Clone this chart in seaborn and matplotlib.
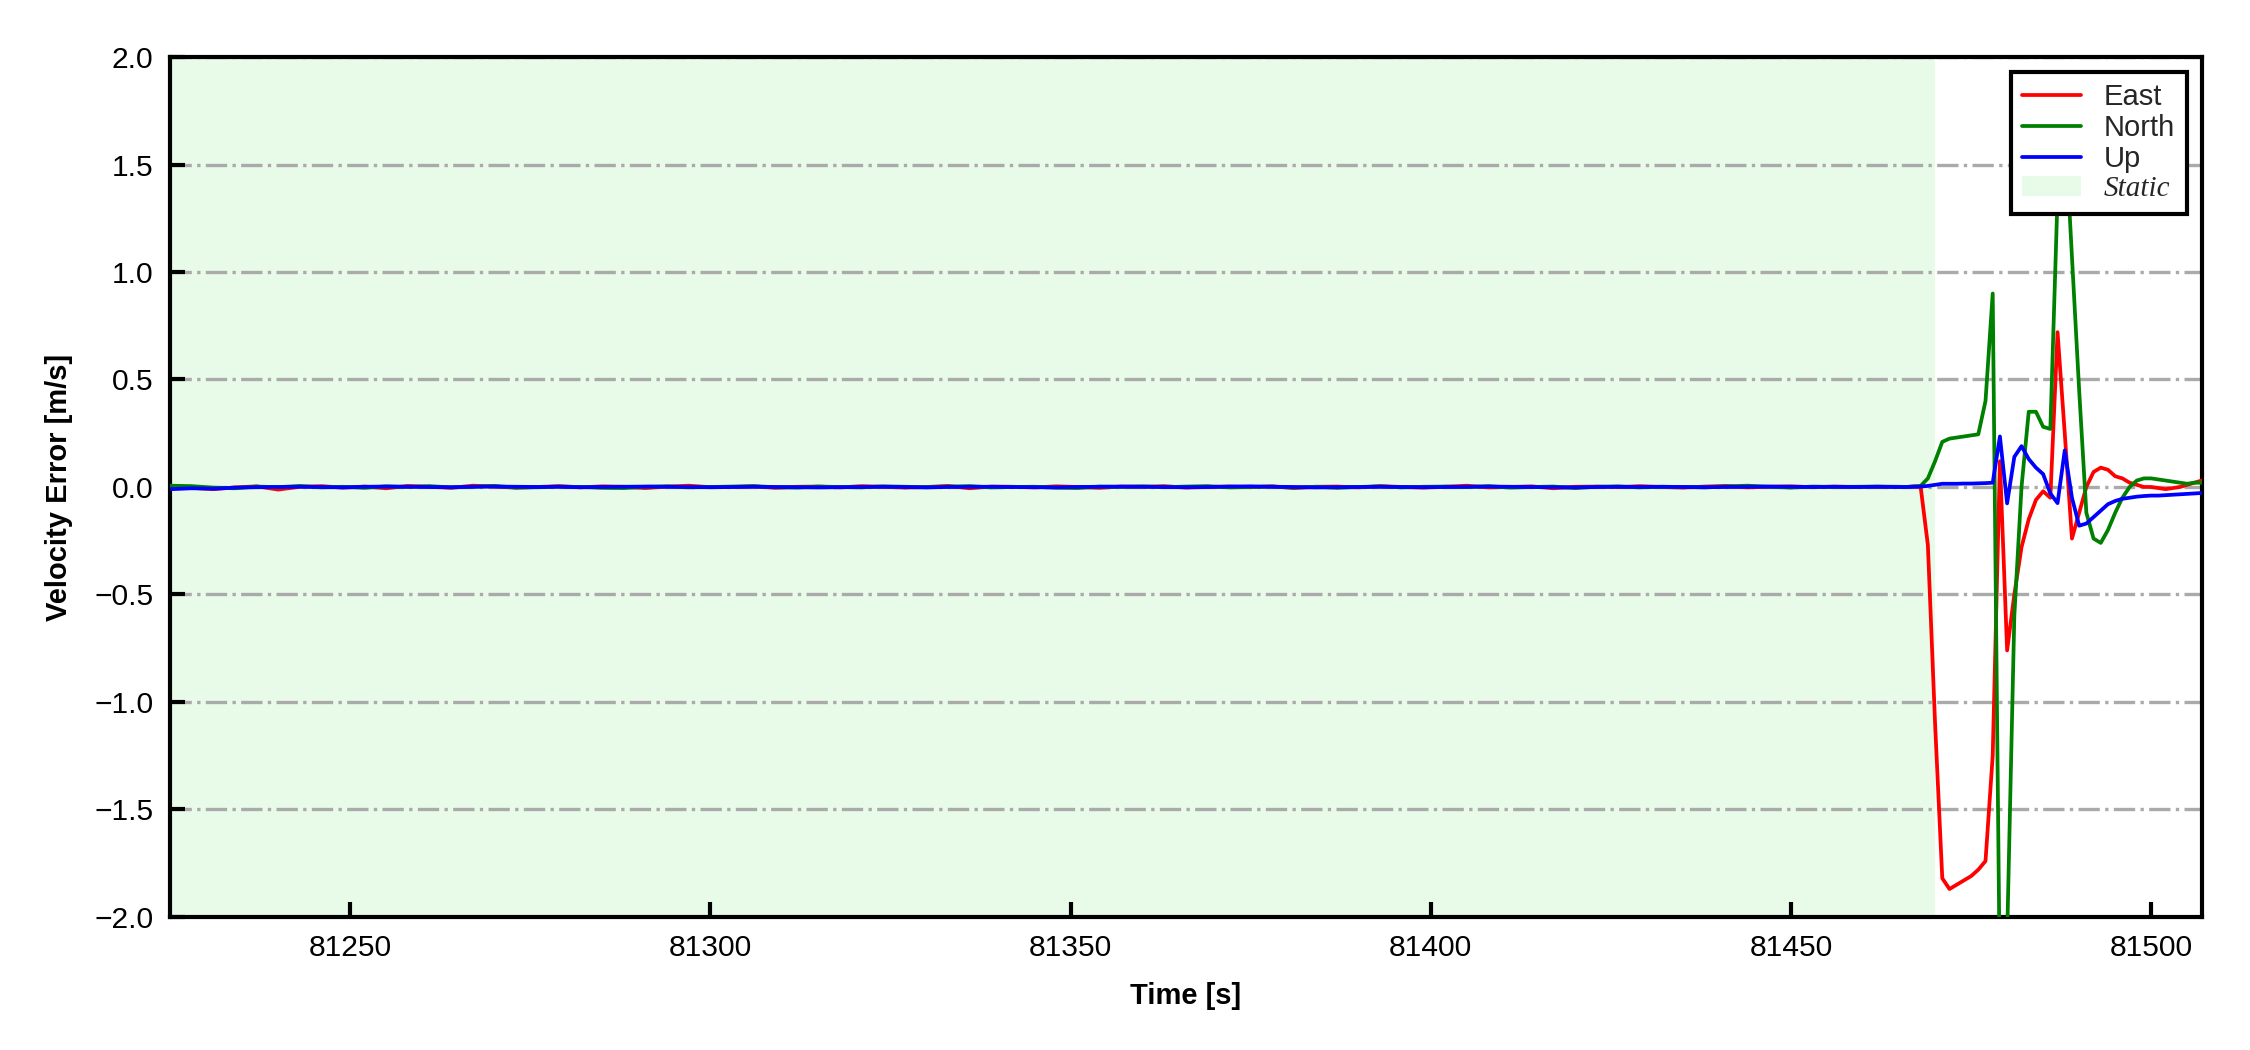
"""Velocity error (ENU) with static period shading"""
import seaborn as sns
import matplotlib.pyplot as plt
from matplotlib.patches import Patch
from matplotlib.lines import Line2D
from matplotlib.ticker import MultipleLocator
import pandas as pd
import numpy as np

STATIC_T = np.arange(81225, 81466, 3)
EAST_STATIC = [
    -0.008, -0.004, -0.010, -0.002, 0.003, -0.012, 0.001, 0.004, -0.003, 0.002,
    -0.006, 0.005, 0.001, -0.004, 0.006, 0.002, -0.003, 0.000, 0.004, -0.002,
    0.003, 0.001, -0.005, 0.002, 0.006, -0.001, 0.000, 0.003, -0.004, 0.001,
    0.002, -0.002, 0.004, 0.001, -0.003, 0.000, 0.005, -0.006, 0.002, 0.001,
    -0.002, 0.003, 0.000, -0.004, 0.002, 0.001, 0.004, -0.003, 0.000, 0.002,
    -0.001, 0.003, -0.005, 0.001, 0.002, -0.002, 0.004, 0.000, -0.003, 0.001,
    0.006, -0.002, 0.000, 0.003, -0.006, 0.001, 0.002, -0.001, 0.004, 0.000,
    -0.003, 0.002, 0.005, -0.002, 0.001, 0.003, -0.001, 0.002, 0.000, 0.001, 0.000]
NORTH_STATIC = [
    0.006, 0.004, -0.003, -0.006, 0.002, -0.001, 0.005, -0.002, 0.001, -0.004,
    0.003, 0.000, 0.004, -0.002, 0.001, 0.005, -0.003, -0.001, 0.002, 0.000,
    -0.004, -0.005, 0.001, 0.003, -0.002, 0.000, 0.002, 0.004, -0.001, -0.003,
    0.002, 0.000, -0.002, 0.003, 0.001, -0.001, 0.002, 0.004, -0.002, 0.000,
    0.001, -0.003, -0.005, 0.002, 0.000, 0.003, -0.001, 0.002, 0.004, -0.002,
    0.000, 0.002, -0.003, 0.001, -0.004, 0.000, 0.003, -0.002, 0.001, 0.002,
    -0.001, 0.004, -0.003, 0.000, 0.002, -0.005, 0.001, 0.003, -0.002, 0.001,
    0.000, -0.002, 0.003, 0.006, 0.001, -0.003, 0.002, 0.000, 0.001, 0.002, 0.001]
UP_STATIC = [
    -0.010, -0.006, -0.008, -0.003, -0.001, 0.000, 0.001, 0.000, -0.002, 0.001,
    0.002, 0.001, 0.000, -0.001, 0.001, 0.002, 0.001, 0.000, 0.001, -0.001,
    0.000, 0.001, 0.002, 0.001, 0.000, -0.001, 0.000, 0.001, 0.000, -0.001,
    -0.002, -0.001, 0.000, 0.001, 0.000, -0.002, 0.000, 0.001, 0.001, 0.000,
    -0.001, -0.002, 0.000, 0.001, 0.002, 0.001, 0.000, -0.001, 0.000, 0.002,
    0.003, 0.001, 0.000, -0.002, -0.001, 0.000, 0.001, 0.000, -0.001, 0.000,
    0.001, 0.002, 0.001, 0.000, -0.001, -0.002, 0.000, 0.001, 0.000, 0.001,
    0.000, -0.001, 0.000, 0.001, 0.002, 0.001, 0.000, 0.001, 0.000, 0.001, 0.000]

# dynamic part, 1 Hz
TRANS_T = np.arange(81466, 81508)
EAST_TRANS = [
    0.000, 0.002, 0.000, -0.27, -1.10, -1.82, -1.87, -1.85, -1.83, -1.81,
    -1.78, -1.74, -1.25, 0.12, -0.76, -0.50, -0.28, -0.15, -0.06, -0.02,
    -0.05, 0.72, 0.25, -0.24, -0.12, 0.00, 0.07, 0.09, 0.08, 0.05,
    0.04, 0.02, 0.01, 0.00, 0.00, -0.005, -0.01, -0.005, 0.00, 0.01,
    0.02, 0.03]
NORTH_TRANS = [
    0.000, 0.003, 0.005, 0.04, 0.12, 0.21, 0.225, 0.23, 0.235, 0.24,
    0.245, 0.40, 0.90, -2.35, -2.10, -0.60, 0.00, 0.35, 0.35, 0.28,
    0.27, 1.35, 1.70, 1.07, 0.45, -0.12, -0.24, -0.26, -0.20, -0.12,
    -0.05, 0.00, 0.03, 0.04, 0.04, 0.035, 0.03, 0.025, 0.02, 0.015,
    0.02, 0.02]
UP_TRANS = [
    0.000, 0.001, 0.002, 0.005, 0.010, 0.015, 0.015, 0.015, 0.016, 0.016,
    0.017, 0.018, 0.020, 0.235, -0.076, 0.14, 0.19, 0.13, 0.09, 0.06,
    -0.03, -0.075, 0.17, -0.05, -0.18, -0.17, -0.14, -0.11, -0.08, -0.065,
    -0.055, -0.05, -0.045, -0.042, -0.04, -0.04, -0.038, -0.036, -0.034, -0.032,
    -0.03, -0.028]

STATIC_END = 81470
COLORS = {'East': 'red', 'North': 'green', 'Up': 'blue'}

t = np.concatenate([STATIC_T, TRANS_T])
df = pd.concat([
    pd.DataFrame({'Time [s]': t, 'Error': EAST_STATIC + EAST_TRANS, 'Axis': 'East'}),
    pd.DataFrame({'Time [s]': t, 'Error': NORTH_STATIC + NORTH_TRANS, 'Axis': 'North'}),
    pd.DataFrame({'Time [s]': t, 'Error': UP_STATIC + UP_TRANS, 'Axis': 'Up'}),
])

sns.set_theme(style='white')
plt.rcParams['font.family'] = ['Liberation Sans', 'DejaVu Sans']
plt.rcParams['axes.unicode_minus'] = True

fig = plt.figure(figsize=(7.5, 3.5), dpi=300)
ax = fig.add_axes([0.0756, 0.1267, 0.9029, 0.819])

ax.axvspan(t.min(), STATIC_END, color='lightgreen', alpha=0.2, lw=0, zorder=0)
sns.lineplot(data=df, x='Time [s]', y='Error', hue='Axis', palette=COLORS,
             estimator=None, sort=False, lw=0.9, legend=False, ax=ax, zorder=3)

ax.set_xlim(t.min(), t.max())
ax.set_ylim(-2.0, 2.0)
ax.xaxis.set_major_locator(MultipleLocator(50))
ax.yaxis.set_major_locator(MultipleLocator(0.5))
ax.yaxis.grid(True, ls='-.', color='#aaaaaa', lw=0.8)
ax.xaxis.grid(False)
for sp in ax.spines.values():
    sp.set_edgecolor('black')
    sp.set_linewidth(1.0)
ax.tick_params(direction='in', length=3.5, width=1.0, labelsize=7.2, colors='black',
               bottom=True, left=True, top=False, right=False, pad=4)
ax.set_xlabel('Time [s]', fontsize=7, fontweight='bold', color='black', labelpad=5)
ax.set_ylabel('Velocity Error [m/s]', fontsize=7, fontweight='bold', color='black',
              labelpad=5)

handles = [Line2D([], [], color=c, lw=0.9) for c in COLORS.values()]
handles.append(Patch(facecolor='lightgreen', alpha=0.2, edgecolor='none'))
leg = ax.legend(handles, list(COLORS) + ['Static'], loc='upper right', fontsize=7,
                fancybox=False, framealpha=1, edgecolor='black', labelspacing=0.1,
                handlelength=2.0, borderpad=0.4)
leg.get_frame().set_linewidth(1.0)
leg.set_zorder(5)
st = leg.get_texts()[3]
st.set_fontfamily('Liberation Serif')
st.set_fontstyle('italic')

fig.savefig('out.png', dpi=300, facecolor='white')
